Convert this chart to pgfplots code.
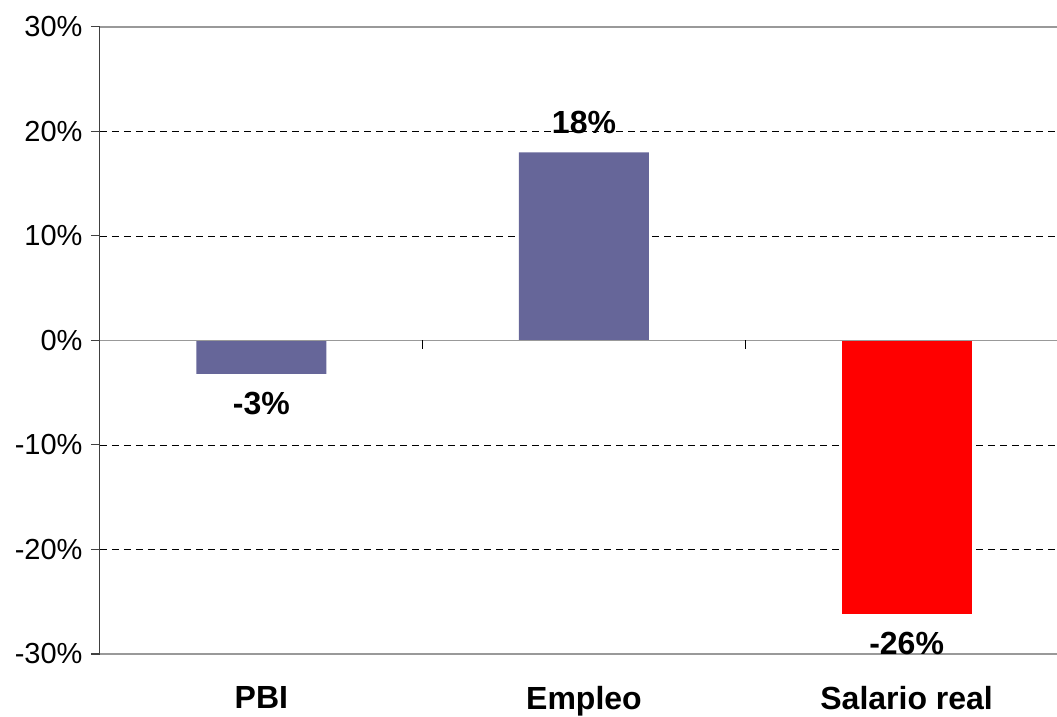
\documentclass[border=0pt]{standalone}
\usepackage{pgfplots}
\pgfplotsset{compat=1.18}
\usepackage{fontspec}
\setmainfont{Liberation Sans}
\definecolor{barblue}{RGB}{102,102,153}
\begin{document}
\begin{tikzpicture}
\begin{axis}[
  at={(0pt,0pt)}, anchor=south west,
  scale only axis, width=957pt, height=627pt,
  clip=false,
  xmin=-0.5, xmax=2.466, ymin=-30, ymax=30,
  ytick={-30,-20,...,30},
  xtick={0,1,2}, xticklabels={PBI,Empleo,Salario real},
  major x tick style={draw=none},
  axis x line*=bottom, axis y line*=left,
  x axis line style={gray!80,-,line width=1pt},
  y axis line style={black!75,-,line width=1pt},
  ytick style={black!75,line width=1pt},
  tick align=outside, major tick length=9pt,
  ymajorgrids, grid style={black, line width=0.8pt, dash pattern=on 7pt off 5pt},
  /pgf/number format/assume math mode=true,
  yticklabel={\pgfmathprintnumber{\tick}\%},
  yticklabel style={font=\fontsize{29}{33}\selectfont, xshift=-5pt},
  xticklabel style={font=\bfseries\fontsize{32}{37}\selectfont, yshift=-20pt},
  ybar, bar width=130pt, bar shift=0pt,
  nodes near coords={\pgfmathprintnumber[fixed,precision=0]{\pgfplotspointmeta}\%},
  nodes near coords style={font=\bfseries\fontsize{32}{37}\selectfont, inner sep=18pt},
]
\addplot[draw=none, fill=barblue] coordinates {(0,-3.2) (1,18)};
\addplot[draw=none, fill=red] coordinates {(2,-26.2)};
\draw[gray!80, line width=1.2pt] (axis cs:-0.5,0) -- (axis cs:2.466,0);
\draw[gray!80, line width=1.2pt] (axis cs:-0.5,30) -- (axis cs:2.466,30);
\draw[gray!80, line width=1.2pt] (axis cs:-0.5,-30) -- (axis cs:2.466,-30);
\draw[black, line width=1pt] (axis cs:0.5,0) -- ++(0pt,-9pt);
\draw[black, line width=1pt] (axis cs:1.5,0) -- ++(0pt,-9pt);
\end{axis}
\pgfresetboundingbox
\path[use as bounding box] (-100pt,-63pt) rectangle (957pt,654pt);
\end{tikzpicture}
\end{document}
